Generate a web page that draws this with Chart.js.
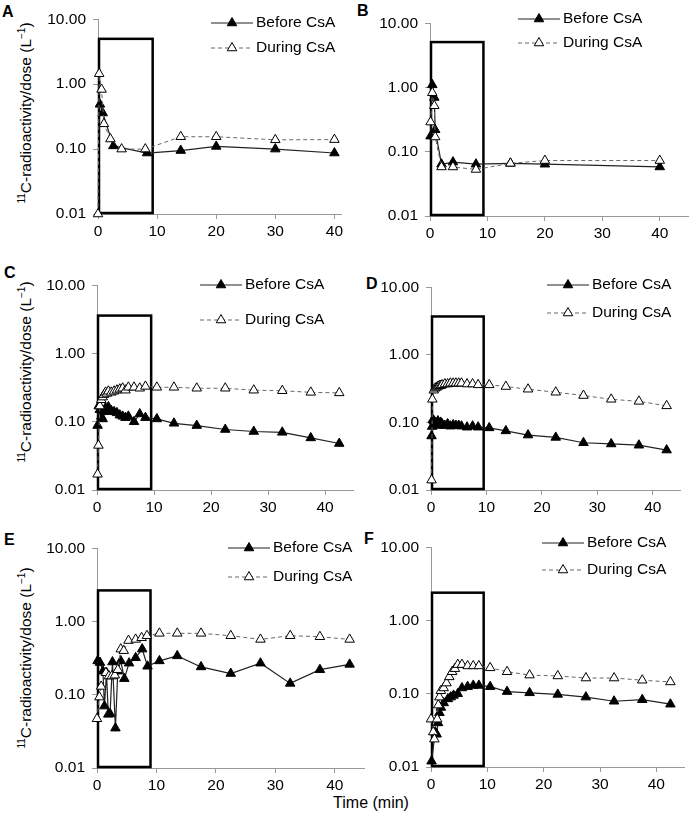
<!DOCTYPE html>
<html><head><meta charset="utf-8">
<script src="https://cdn.jsdelivr.net/npm/chart.js@4/dist/chart.umd.min.js"></script>
<style>
body{margin:0;background:#fff;width:691px;height:823px;position:relative;overflow:hidden;font-family:"Liberation Sans",Arial,sans-serif;}
canvas{position:absolute;}
.lt{position:absolute;font-weight:bold;font-size:16px;color:#000;line-height:16px;}
.yt{position:absolute;font-size:15.5px;white-space:nowrap;color:#000;transform:translate(-50%,-50%) rotate(-90deg);}
.yt sup{font-size:10px;vertical-align:6px;line-height:0;}
.xt{position:absolute;font-size:16px;color:#000;transform:translate(-50%,-50%);white-space:nowrap;}
</style></head><body>
<div class="lt" style="left:2px;top:4px">A</div>
<div class="lt" style="left:357px;top:3px">B</div>
<div class="lt" style="left:4px;top:265px">C</div>
<div class="lt" style="left:366px;top:276px">D</div>
<div class="lt" style="left:4px;top:532px">E</div>
<div class="lt" style="left:364px;top:531px">F</div>
<div class="yt" style="left:26px;top:113px"><sup>11</sup>C-radioactivity/dose (L<sup>−1</sup>)</div>
<div class="yt" style="left:26px;top:372px"><sup>11</sup>C-radioactivity/dose (L<sup>−1</sup>)</div>
<div class="yt" style="left:26px;top:658px"><sup>11</sup>C-radioactivity/dose (L<sup>−1</sup>)</div>
<div class="xt" style="left:371px;top:803px">Time (min)</div>
<script>
// ---------- DATA ----------
const xTicks = [0, 10, 20, 30, 40];
const yTicks = [0.01, 0.1, 1, 10];
const seriesNames = ["Before CsA", "During CsA"];

const aBeforeX = [0.33, 0.8, 2.6, 8.3, 14, 20, 30, 40];
const aBeforeY = [0.49, 0.36, 0.112, 0.087, 0.095, 0.11, 0.10, 0.087];
const aDuringX = [0, 0.2, 0.6, 1.0, 2.1, 4.0, 8.0, 14, 20, 30, 40];
const aDuringY = [0.01, 1.45, 0.83, 0.245, 0.143, 0.10, 0.10, 0.155, 0.155, 0.139, 0.14];

const bBeforeX = [0.1, 0.4, 0.75, 0.9, 2, 4, 8, 14, 20, 40];
const bBeforeY = [0.175, 1.1, 0.70, 0.22, 0.064, 0.069, 0.064, 0.066, 0.064, 0.058];
const bDuringX = [0.1, 0.4, 0.75, 0.9, 2, 4, 8, 14, 20, 40];
const bDuringY = [0.29, 0.83, 0.52, 0.17, 0.058, 0.058, 0.053, 0.066, 0.073, 0.073];

const cBeforeX = [0.1, 0.3, 0.5, 0.75, 1, 1.25, 1.5, 2, 2.5, 3, 3.5, 4, 4.5, 5, 5.5, 6.5, 7.5, 8.5, 10.5, 13.5, 17.5, 22.5, 27.5, 32.5, 37.5, 42.5];
const cBeforeY = [0.088, 0.17, 0.15, 0.12, 0.11, 0.14, 0.16, 0.165, 0.145, 0.14, 0.135, 0.125, 0.12, 0.115, 0.12, 0.10, 0.13, 0.115, 0.11, 0.095, 0.088, 0.077, 0.072, 0.07, 0.058, 0.048];
const cDuringX = [0.1, 0.25, 0.5, 0.75, 1, 1.25, 1.5, 1.75, 2, 2.5, 3, 3.5, 4, 4.5, 5, 5.5, 6.5, 7.5, 8.5, 10.5, 13.5, 17.5, 22.5, 27.5, 32.5, 37.5, 42.5];
const cDuringY = [0.017, 0.045, 0.17, 0.21, 0.23, 0.25, 0.27, 0.26, 0.28, 0.27, 0.28, 0.29, 0.30, 0.31, 0.29, 0.32, 0.32, 0.31, 0.33, 0.32, 0.32, 0.31, 0.31, 0.29, 0.285, 0.27, 0.265];

const dBeforeX = [0.1, 0.2, 0.35, 0.5, 0.75, 1, 1.25, 1.5, 1.75, 2, 2.5, 3, 3.5, 4, 4.5, 5, 5.5, 6.5, 7.5, 8.5, 10.5, 13.5, 17.5, 22.5, 27.5, 32.5, 37.5, 42.5];
const dBeforeY = [0.063, 0.087, 0.11, 0.105, 0.10, 0.095, 0.105, 0.09, 0.10, 0.095, 0.09, 0.095, 0.088, 0.092, 0.09, 0.09, 0.088, 0.085, 0.088, 0.085, 0.083, 0.075, 0.065, 0.06, 0.05, 0.048, 0.046, 0.039];
const dDuringX = [0.1, 0.25, 0.5, 0.75, 1, 1.25, 1.5, 1.75, 2, 2.5, 3, 3.5, 4, 4.5, 5, 5.5, 6.5, 7.5, 8.5, 10.5, 13.5, 17.5, 22.5, 27.5, 32.5, 37.5, 42.5];
const dDuringY = [0.014, 0.22, 0.30, 0.32, 0.33, 0.34, 0.35, 0.35, 0.36, 0.37, 0.37, 0.38, 0.38, 0.38, 0.38, 0.38, 0.37, 0.37, 0.36, 0.36, 0.34, 0.31, 0.28, 0.25, 0.22, 0.205, 0.176];

const eBeforeX = [0.1, 0.5, 1.0, 1.25, 1.6, 1.9, 2.2, 2.6, 3.1, 3.5, 4.0, 4.6, 5.4, 6.5, 7.6, 8.5, 10.5, 13.5, 17.5, 22.5, 27.5, 32.5, 37.5, 42.5];
const eBeforeY = [0.29, 0.275, 0.21, 0.07, 0.20, 0.054, 0.055, 0.28, 0.035, 0.21, 0.29, 0.166, 0.27, 0.32, 0.42, 0.245, 0.29, 0.34, 0.24, 0.195, 0.27, 0.143, 0.22, 0.26];
// a value of 0 cannot be shown on the log axis: the line drops to the axis with no marker
const eDuringX = [0, 0.4, 0.7, 1.05, 1.5, 2.0, 2.5, 3.0, 3.5, 4.0, 4.5, 5.3, 6.5, 7.5, 8.4, 10.5, 13.5, 17.5, 22.5, 27.5, 32.5, 37.5, 42.5];
const eDuringY = [0.047, 0.093, 0.13, 0, 0.20, 0.18, 0.18, 0.185, 0.22, 0.42, 0.40, 0.55, 0.57, 0.60, 0.64, 0.69, 0.69, 0.69, 0.64, 0.57, 0.64, 0.62, 0.57];

const fBeforeX = [0.1, 0.75, 1.0, 1.25, 1.5, 1.75, 2.25, 3.0, 3.5, 4.0, 4.75, 5.5, 6.5, 7.5, 8.5, 10.5, 13.5, 17.5, 22.5, 27.5, 32.5, 37.5, 42.5];
const fBeforeY = [0.012, 0.03, 0.028, 0.04, 0.055, 0.065, 0.075, 0.085, 0.09, 0.095, 0.10, 0.12, 0.125, 0.13, 0.13, 0.125, 0.107, 0.103, 0.098, 0.09, 0.079, 0.083, 0.072];
const fDuringX = [0, 0.4, 0.6, 1.0, 1.1, 1.3, 1.5, 1.75, 2.25, 2.75, 3.25, 3.75, 4.25, 4.75, 5.5, 6.5, 7.5, 8.5, 10.5, 13.5, 17.5, 22.5, 27.5, 32.5, 37.5, 42.5];
const fDuringY = [0.045, 0.03, 0.024, 0, 0.045, 0.07, 0.09, 0.11, 0.12, 0.14, 0.17, 0.20, 0.22, 0.25, 0.25, 0.24, 0.24, 0.24, 0.226, 0.20, 0.18, 0.175, 0.164, 0.164, 0.153, 0.145];

// highlighted early-phase window per panel: [xStart, xEnd, yTop]
const aBox = [0, 9.25, 5.0];
const bBox = [0, 9.3, 5.1];
const cBox = [0, 9.5, 3.6];
const dBox = [0, 9.5, 3.7];
const eBox = [0, 9.0, 2.66];
const fBox = [0, 9.35, 2.4];

// ---------- LAYOUT ----------
const FONT = '"Liberation Sans", Arial, sans-serif';
const YW = 55, PT = 12, XH = 35, PR = 4;
const panels = [
  {L:98, R:344, T:15, B:214, xmax:41.2, bx:aBeforeX, by:aBeforeY, dx:aDuringX, dy:aDuringY, box:aBox, leg:[211,23,48]},
  {L:430, R:691, T:19, B:216, xmax:45, bx:bBeforeX, by:bBeforeY, dx:bDuringX, dy:bDuringY, box:bBox, leg:[518,19,43]},
  {L:97, R:356, T:281, B:490, xmax:45, bx:cBeforeX, by:cBeforeY, dx:cDuringX, dy:cDuringY, box:cBox, leg:[200,285,320]},
  {L:431, R:683, T:283, B:490, xmax:45, bx:dBeforeX, by:dBeforeY, dx:dDuringX, dy:dDuringY, box:dBox, leg:[547,285,313]},
  {L:97, R:367, T:544, B:768, xmax:45, bx:eBeforeX, by:eBeforeY, dx:eDuringX, dy:eDuringY, box:eBox, leg:[228,548,577]},
  {L:431, R:687, T:543, B:767, xmax:45, bx:fBeforeX, by:fBeforeY, dx:fDuringX, dy:fDuringY, box:fBox, leg:[542,543,570]}
];

function tri(ctx, x, y, r, fill) {
  ctx.beginPath();
  ctx.moveTo(x, y - r);
  ctx.lineTo(x + r * Math.sin(2*Math.PI/3), y - r * Math.cos(2*Math.PI/3));
  ctx.lineTo(x + r * Math.sin(4*Math.PI/3), y - r * Math.cos(4*Math.PI/3));
  ctx.closePath();
  ctx.fillStyle = fill; ctx.fill();
  ctx.strokeStyle = '#000'; ctx.lineWidth = 1; ctx.setLineDash([]); ctx.stroke();
}

const decoPlugin = {
  id: 'deco',
  beforeDatasetsDraw(chart, args, opts) {
    const ctx = chart.ctx, xs = chart.scales.x, ys = chart.scales.y;
    const b = opts.box;
    const x0 = xs.getPixelForValue(b[0]), x1 = xs.getPixelForValue(b[1]);
    const yT = ys.getPixelForValue(b[2]), yB = ys.getPixelForValue(0.01);
    ctx.save();
    ctx.strokeStyle = '#000'; ctx.lineWidth = 2.5;
    ctx.strokeRect(x0 + 1, yT, x1 - x0 - 1, yB - yT - 1);
    ctx.restore();
  },
  afterDraw(chart, args, opts) {
    const ctx = chart.ctx;
    const [lx, y1, y2] = opts.leg;
    const ox = opts.ox, oy = opts.oy;
    const x = lx - ox, len = 42;
    ctx.save();
    ctx.font = '15.5px ' + FONT;
    ctx.textBaseline = 'middle'; ctx.textAlign = 'left';
    let y = y1 - oy;
    ctx.strokeStyle = '#222'; ctx.lineWidth = 1.2; ctx.setLineDash([]);
    ctx.beginPath(); ctx.moveTo(x, y); ctx.lineTo(x + len, y); ctx.stroke();
    tri(ctx, x + len/2, y, 5.5, '#000');
    ctx.fillStyle = '#000'; ctx.fillText(seriesNames[0], x + len + 3, y);
    y = y2 - oy;
    ctx.strokeStyle = '#666'; ctx.lineWidth = 1; ctx.setLineDash([4, 3]);
    ctx.beginPath(); ctx.moveTo(x, y); ctx.lineTo(x + len, y); ctx.stroke();
    tri(ctx, x + len/2, y, 5.5, '#fff');
    ctx.fillStyle = '#000'; ctx.fillText(seriesNames[1], x + len + 3, y);
    ctx.restore();
  }
};

const zip = (xs, ys) => xs.map((v, i) => ({x: v, y: ys[i]}));
const markerRadius = c => (c.raw && c.raw.y === 0) ? 0 : 5.5;

panels.forEach(p => {
  const cv = document.createElement('canvas');
  const left = p.L - YW, top = p.T - PT;
  const w = (p.R - p.L) + YW + PR, h = (p.B - p.T) + PT + XH;
  cv.width = w; cv.height = h;
  cv.style.left = left + 'px'; cv.style.top = top + 'px';
  cv.style.width = w + 'px'; cv.style.height = h + 'px';
  document.body.appendChild(cv);
  new Chart(cv, {
    type: 'line',
    data: {
      datasets: [
        {label: seriesNames[0], data: zip(p.bx, p.by), borderColor: '#222', borderWidth: 1.2,
         pointStyle: 'triangle', pointRadius: markerRadius, pointBackgroundColor: '#000', pointBorderColor: '#000',
         pointBorderWidth: 1, tension: 0, clip: false, order: 1},
        {label: seriesNames[1], data: zip(p.dx, p.dy), borderColor: '#666', borderWidth: 1, borderDash: [4, 3],
         pointStyle: 'triangle', pointRadius: markerRadius, pointBackgroundColor: '#fff', pointBorderColor: '#000',
         pointBorderWidth: 1, tension: 0, clip: false, order: 0}
      ]
    },
    options: {
      responsive: false, animation: false, devicePixelRatio: 1,
      layout: {padding: {left: 0, top: PT, right: PR, bottom: 0}},
      plugins: {legend: {display: false}, tooltip: {enabled: false},
        deco: {box: p.box, leg: p.leg, ox: left, oy: top}},
      scales: {
        x: {type: 'linear', min: 0, max: p.xmax,
          afterBuildTicks: s => { s.ticks = xTicks.filter(v => v <= p.xmax).map(v => ({value: v})); },
          afterFit: s => { s.height = XH; },
          grid: {drawOnChartArea: false, drawTicks: true, tickLength: 5, color: '#999'},
          border: {color: '#999', width: 1},
          ticks: {color: '#000', font: {family: FONT, size: 15.5}, padding: 3, maxRotation: 0}},
        y: {type: 'logarithmic', min: 0.01, max: 10,
          afterBuildTicks: s => { s.ticks = yTicks.map(v => ({value: v})); },
          afterFit: s => { s.width = YW; },
          grid: {drawOnChartArea: false, drawTicks: true, tickLength: 5, color: '#999'},
          border: {color: '#999', width: 1},
          ticks: {color: '#000', font: {family: FONT, size: 15.5}, padding: 7,
            callback: v => Number(v).toFixed(2)}}
      }
    },
    plugins: [decoPlugin]
  });
});
</script>
</body></html>
